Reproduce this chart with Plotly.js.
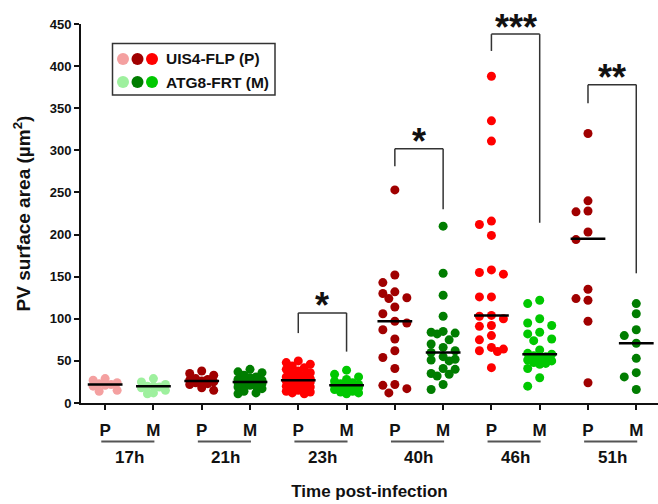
<!DOCTYPE html>
<html>
<head>
<meta charset="utf-8">
<script src="https://cdn.plot.ly/plotly-3.0.1.min.js"></script>
<style>html,body{margin:0;padding:0;background:#fff;}#chart{width:658px;height:504px;}</style>
</head>
<body>
<div id="chart"></div>
<script>
// ---- Data ----
const timepoints = ['17h', '21h', '23h', '40h', '46h', '51h'];
const strains = ['P', 'M'];
const legendLabels = ['UIS4-FLP (P)', 'ATG8-FRT (M)'];

const p17 = [29, 27, 24, 23, 22, 21, 20, 15, 14];
const m17 = [29, 25, 22, 20, 20, 19, 18, 15, 12, 11];
const p21 = [38, 35, 33, 29, 28, 27, 26, 25, 24, 23, 22, 18, 15];
const m21 = [40, 37, 36, 33, 31, 30, 28, 27, 26, 25, 25, 24, 23, 22, 21, 20, 19, 17, 14, 12, 11];
const p23 = [50, 48, 46, 44, 42, 40, 38, 36, 35, 33, 31, 30, 29, 28, 27, 26, 26, 25, 24, 23, 22, 20, 19, 18, 17, 15, 14, 13, 12, 11];
const m23 = [39, 34, 31, 28, 26, 24, 23, 22, 21, 21, 20, 19, 18, 17, 16, 14, 13, 12, 11];
const p40 = [253, 152, 143, 132, 130, 125, 124, 114, 106, 97, 95, 87, 76, 62, 54, 41, 22, 21, 17, 12];
const m40 = [210, 154, 128, 103, 85, 84, 83, 82, 75, 70, 66, 62, 60, 55, 52, 51, 50, 41, 40, 35, 34, 32, 22, 16];
const p46 = [388, 335, 311, 216, 212, 199, 158, 155, 153, 126, 126, 104, 103, 100, 92, 91, 80, 75, 66, 64, 62, 61, 42];
const m46 = [122, 118, 100, 95, 92, 84, 82, 76, 74, 63, 59, 58, 56, 55, 53, 51, 50, 48, 47, 46, 41, 30, 20];
const p51 = [320, 240, 228, 227, 203, 194, 135, 124, 122, 97, 24];
const m51 = [118, 106, 87, 80, 71, 53, 36, 31, 16];

const medians = [22, 20, 26, 25, 27, 21, 97, 60, 104, 58, 195, 71];

// significance brackets: group, label, top, left leg end, right leg end
const sigGroups = ['23h', '40h', '46h', '51h'];
const sigLabels = ['*', '*', '***', '**'];
const sigTop = [107, 302, 438, 378];
const sigLeftEnd = [83, 281, 418, 356];
const sigRightEnd = [61, 230, 214, 154];

// ---- Styling ----
const groups = [p17, m17, p21, m21, p23, m23, p40, m40, p46, m46, p51, m51];
const colors = ['#f4a0a0', '#9ef09e', '#a00000', '#007d00', '#ff0000', '#00c800',
                '#a00000', '#007d00', '#ff0000', '#00c800', '#a00000', '#007d00'];
const legendColors = [['#f4a0a0', '#a00000', '#ff0000'], ['#9ef09e', '#007d00', '#00c800']];
const FONT = 'Liberation Sans, Arial, Helvetica, sans-serif';

const W = 658, H = 504;
const margin = {l: 81, r: 0, t: 24, b: 101};
const xRange = [-0.5, 11.45];
const yRange = [0, 450];
const plotW = W - margin.l - margin.r;
const plotH = H - margin.t - margin.b;
const pxX = plotW / (xRange[1] - xRange[0]);
const pxY = plotH / (yRange[1] - yRange[0]);

// deterministic beeswarm placement
function swarm(vals, center) {
  const cands = [0, -12, 12, -6, 6];
  const sorted = vals.slice().sort((a, b) => b - a);
  const placed = [];
  for (const v of sorted) {
    let best = 0, bestD = -1;
    for (const c of cands) {
      let minD = Infinity;
      for (const p of placed) {
        const d = Math.hypot(c - p.dx, (v - p.v) * pxY);
        if (d < minD) minD = d;
      }
      if (minD >= 9.5) { best = c; bestD = Infinity; break; }
      if (minD > bestD) { bestD = minD; best = c; }
    }
    placed.push({v: v, dx: best});
  }
  return {x: placed.map(p => center + p.dx / pxX), y: placed.map(p => p.v)};
}

const traces = [];
groups.forEach((vals, i) => {
  const s = swarm(vals, i);
  traces.push({
    type: 'scatter', mode: 'markers', x: s.x, y: s.y,
    marker: {size: 9, color: colors[i], line: {width: 0}},
    showlegend: false, hoverinfo: 'y'
  });
});
// median lines
const mx = [], my = [];
medians.forEach((m, i) => { mx.push(i - 0.36, i + 0.36, null); my.push(m, m, null); });
traces.push({type: 'scatter', mode: 'lines', x: mx, y: my,
  line: {color: '#000', width: 2.5}, showlegend: false, hoverinfo: 'skip'});

const tickvals = [], ticktext = [];
timepoints.forEach((t, g) => strains.forEach((s, k) => { tickvals.push(g * 2 + k); ticktext.push(s); }));

const shapes = [];
const annotations = [];
const toPaperX = v => (v - xRange[0]) / (xRange[1] - xRange[0]);
const pyPaper = py => (H - margin.b - py) / plotH;

// group underlines and labels
timepoints.forEach((t, g) => {
  shapes.push({type: 'line', xref: 'paper', yref: 'paper',
    x0: toPaperX(g * 2 - 0.08), x1: toPaperX(g * 2 + 1.02),
    y0: pyPaper(441.5), y1: pyPaper(441.5), line: {color: '#555', width: 2}});
  annotations.push({xref: 'x', yref: 'paper', x: g * 2 + 0.5, y: pyPaper(457),
    text: t, showarrow: false, xanchor: 'center', yanchor: 'middle',
    font: {family: FONT, size: 17, color: '#111', weight: 'bold'}});
});

// significance brackets
sigGroups.forEach((grp, k) => {
  const g = timepoints.indexOf(grp);
  const xl = g * 2, xr = g * 2 + 1;
  const ln = {color: '#333', width: 1.5};
  shapes.push({type: 'line', xref: 'x', yref: 'y', x0: xl, x1: xr, y0: sigTop[k], y1: sigTop[k], line: ln});
  shapes.push({type: 'line', xref: 'x', yref: 'y', x0: xl, x1: xl, y0: sigTop[k], y1: sigLeftEnd[k], line: ln});
  shapes.push({type: 'line', xref: 'x', yref: 'y', x0: xr, x1: xr, y0: sigTop[k], y1: sigRightEnd[k], line: ln});
  annotations.push({xref: 'x', yref: 'y', x: g * 2 + 0.5, y: sigTop[k], yshift: 7,
    text: sigLabels[k], showarrow: false, xanchor: 'center', yanchor: 'middle',
    font: {family: FONT, size: 36, color: '#111', weight: 'bold'}});
});

// manual legend
shapes.push({type: 'rect', xref: 'paper', yref: 'paper',
  x0: (112.5 - margin.l) / plotW, x1: (275 - margin.l) / plotW,
  y0: pyPaper(95), y1: pyPaper(43.5), line: {color: '#333', width: 1.5}, fillcolor: 'rgba(0,0,0,0)'});
const legRowsPx = [59, 82];
const legDotPx = [123, 137.5, 152];
legendLabels.forEach((lab, r) => {
  legendColors[r].forEach((c, j) => {
    shapes.push({type: 'circle', xref: 'paper', yref: 'paper',
      xsizemode: 'pixel', ysizemode: 'pixel',
      xanchor: (legDotPx[j] - margin.l) / plotW, yanchor: pyPaper(legRowsPx[r]),
      x0: -6, x1: 6, y0: -6, y1: 6, fillcolor: c, line: {width: 0}});
  });
  annotations.push({xref: 'paper', yref: 'paper', x: (164 - margin.l) / plotW, y: pyPaper(legRowsPx[r]),
    text: lab, showarrow: false, xanchor: 'left', yanchor: 'middle',
    font: {family: FONT, size: 15.5, color: '#111', weight: 'bold'}});
});

const layout = {
  width: W, height: H, margin: margin,
  paper_bgcolor: '#fff', plot_bgcolor: '#fff',
  font: {family: FONT, color: '#111'},
  showlegend: false,
  xaxis: {
    range: xRange, showgrid: false, zeroline: false,
    showline: true, linecolor: '#111', linewidth: 2,
    ticks: 'outside', ticklen: 5, tickwidth: 2, tickcolor: '#111',
    tickvals: tickvals, ticktext: ticktext, ticklabelstandoff: 6,
    tickfont: {family: FONT, size: 17, color: '#111', weight: 'bold'},
    title: {text: 'Time post-infection', standoff: 46,
      font: {family: FONT, size: 17, color: '#111', weight: 'bold'}}
  },
  yaxis: {
    range: yRange, dtick: 50, showgrid: false, zeroline: false,
    showline: true, linecolor: '#111', linewidth: 2,
    ticks: 'outside', ticklen: 5, tickwidth: 2, tickcolor: '#111',
    tickfont: {family: FONT, size: 13, color: '#111', weight: 'bold'},
    title: {text: 'PV surface area (µm<sup>2</sup>)', standoff: 14,
      font: {family: FONT, size: 19, color: '#111', weight: 'bold'}}
  },
  shapes: shapes,
  annotations: annotations
};

Plotly.newPlot('chart', traces, layout, {displayModeBar: false, staticPlot: true});
</script>
</body>
</html>
